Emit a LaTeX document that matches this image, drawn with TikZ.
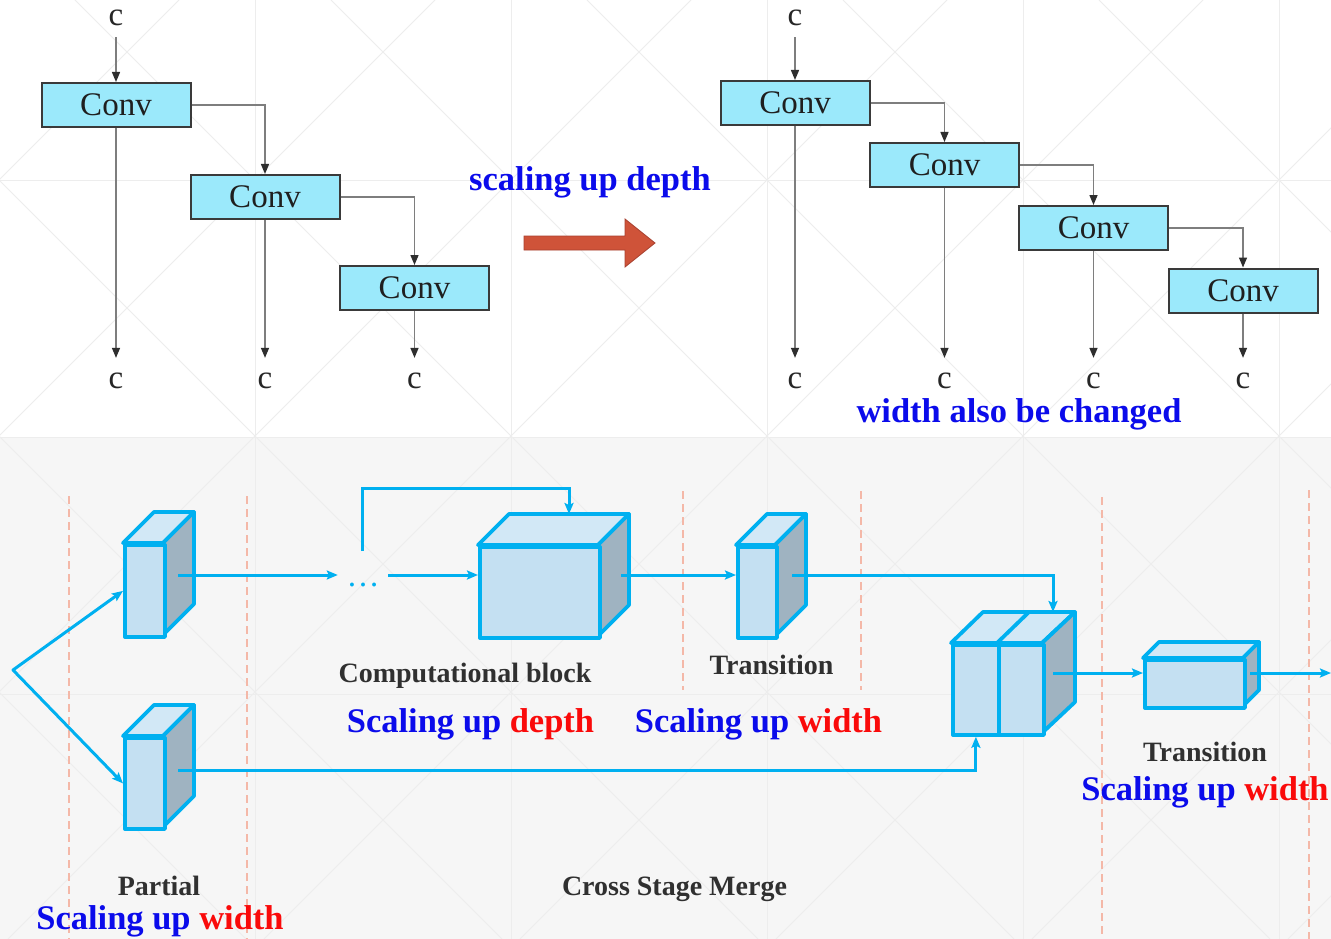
\documentclass[tikz,border=0pt]{standalone}
\usepackage{fontspec}
\setmainfont{Liberation Serif}
\usetikzlibrary{arrows.meta,calc}

\definecolor{convfill}{HTML}{9BE9FB}
\definecolor{convline}{HTML}{3A3A3A}
\definecolor{wiregray}{HTML}{7E7E7E}
\definecolor{tipgray}{HTML}{2E2E2E}
\definecolor{cyanline}{HTML}{00B0F0}
\definecolor{frontfill}{HTML}{C4E0F2}
\definecolor{topfill}{HTML}{D2E8F6}
\definecolor{sidefill}{HTML}{9FB3C1}
\definecolor{guidecol}{HTML}{F4B8A8}
\definecolor{textblue}{HTML}{0B0BEB}
\definecolor{textred}{HTML}{FA0A0A}
\definecolor{textdark}{HTML}{303030}
\definecolor{arrowred}{HTML}{CF5339}
\definecolor{arrowedge}{HTML}{A84130}
\definecolor{panelgray}{HTML}{F6F6F6}

% a box drawn in perspective: name, front x1, y1, x2, y2, depth
\newcommand\cuboid[6]{%
  \filldraw[cubeedge, fill=topfill] (#2,#3) -- ({#2+#6},{#3-#6}) -- ({#4+#6},{#3-#6}) -- (#4,#3) -- cycle;
  \filldraw[cubeedge, fill=sidefill] (#4,#3) -- ({#4+#6},{#3-#6}) -- ({#4+#6},{#5-#6}) -- (#4,#5) -- cycle;
  \node[cubeedge, fill=frontfill, anchor=north west, inner sep=0pt,
        minimum width={(#4-#2)*1pt}, minimum height={(#5-#3)*1pt}] (#1) at (#2,#3) {};
}

\begin{document}
\begin{tikzpicture}[x=1pt,y=-1pt,
  conv/.style={draw=convline, line width=2pt, fill=convfill, minimum width=149pt,
    minimum height=44pt, inner sep=0pt, font=\fontsize{33}{33}\selectfont, text=black!88},
  clabel/.style={font=\fontsize{33}{33}\selectfont, inner sep=0pt, text=black!85},
  wire/.style={draw=wiregray, line width=1.4pt,
    -{Triangle[length=10pt,width=8pt,color=tipgray]}},
  cubeedge/.style={draw=cyanline, line width=3.8pt, line join=round},
  flow/.style={draw=cyanline, line width=3pt,
    -{Stealth[length=11pt,width=9pt,inset=2pt]}},
  guide/.style={draw=guidecol, line width=2pt, dash pattern=on 8pt off 5pt},
  watermark/.style={draw=black!7, line width=0.8pt},
  note/.style={font=\bfseries\fontsize{34.5}{35}\selectfont, inner sep=0pt},
  caption/.style={font=\bfseries\fontsize{28}{28}\selectfont, text=textdark, inner sep=0pt}
]
\useasboundingbox (0,0) rectangle (1331,939);

% ---- background with faint template pattern ----
\fill[white] (0,0) rectangle (1331,437);
\fill[panelgray] (0,437) rectangle (1331,939);
\begin{scope}
  \clip (0,0) rectangle (1331,939);
  \foreach \gx in {255,511,767,1023,1279} \draw[watermark] (\gx,0) -- (\gx,939);
  \foreach \gy in {180,437,694} \draw[watermark] (0,\gy) -- (1331,\gy);
  \foreach \k in {-4,...,6} \draw[watermark] ({75+256*\k},0) -- ({75+256*\k+939},939);
  \foreach \k in {-1,...,9} \draw[watermark] ({435+256*\k},0) -- ({435+256*\k-939},939);
\end{scope}

% ---- three stacked convolutions ----
\node[conv] (L1) at (116,105) {Conv};
\node[conv] (L2) at (265,197) {Conv};
\node[conv] (L3) at (414.5,288) {Conv};
\node[clabel] (lc0) at (116,18) {c};
\node[clabel] (lc1) at (116,381) {c};
\node[clabel] (lc2) at (265,381) {c};
\node[clabel] (lc3) at (414.5,381) {c};
\draw[wire, shorten <=11pt] (lc0) -- (L1);
\draw[wire] (L1.east) -| (L2.north);
\draw[wire] (L2.east) -| (L3.north);
\draw[wire, shorten >=15pt] (L1) -- (lc1);
\draw[wire, shorten >=15pt] (L2) -- (lc2);
\draw[wire, shorten >=15pt] (L3) -- (lc3);

% ---- deeper stack ----
\node[conv] (R1) at (795,103) {Conv};
\node[conv] (R2) at (944.5,165) {Conv};
\node[conv] (R3) at (1093.5,228) {Conv};
\node[conv] (R4) at (1243,290.5) {Conv};
\node[clabel] (rc0) at (795,18) {c};
\node[clabel] (rc1) at (795,381) {c};
\node[clabel] (rc2) at (944.5,381) {c};
\node[clabel] (rc3) at (1093.5,381) {c};
\node[clabel] (rc4) at (1243,381) {c};
\draw[wire, shorten <=11pt] (rc0) -- (R1);
\draw[wire] (R1.east) -| (R2.north);
\draw[wire] (R2.east) -| (R3.north);
\draw[wire] (R3.east) -| (R4.north);
\draw[wire, shorten >=15pt] (R1) -- (rc1);
\draw[wire, shorten >=15pt] (R2) -- (rc2);
\draw[wire, shorten >=15pt] (R3) -- (rc3);
\draw[wire, shorten >=15pt] (R4) -- (rc4);

\node[note, text=textblue, anchor=base] (depthnote) at (590,190) {scaling up depth};
\node[note, text=textblue, anchor=base] (widthnote) at (1019,422) {width also be changed};

% block arrow between the two stacks
\filldraw[fill=arrowred, draw=arrowedge, line width=0.8pt, line join=miter]
  (524,236) -- (625,236) -- (625,219) -- (655,243) -- (625,267) -- (625,250) -- (524,250) -- cycle;

% ---- stage boundaries ----
\draw[guide] (69,496) -- (69,939);
\draw[guide] (247,496) -- (247,939);
\draw[guide] (683,491) -- (683,690);
\draw[guide] (861,491) -- (861,690);
\draw[guide] (1102,497) -- (1102,939);
\draw[guide] (1309,490) -- (1309,939);

% ---- blocks ----
\cuboid{p1}{123}{543}{163}{635}{31}
\cuboid{p2}{123}{736}{163}{827}{31}
\cuboid{cb}{478}{545}{598}{636}{31}
\cuboid{t1}{736}{545}{775}{636}{31}
\cuboid{t2}{1143}{658}{1243}{706}{16}

% merge block made of two slices
\filldraw[cubeedge, fill=topfill] (951,643) -- (983,612) -- (1075,612) -- (1042,643) -- cycle;
\draw[cubeedge] (997,643) -- (1029,612);
\filldraw[cubeedge, fill=sidefill] (1042,643) -- (1075,612) -- (1075,702) -- (1042,733) -- cycle;
\node[cubeedge, fill=frontfill, anchor=north west, inner sep=0pt,
      minimum width=46pt, minimum height=90pt] (m1) at (951,643) {};
\node[cubeedge, fill=frontfill, anchor=north west, inner sep=0pt,
      minimum width=45pt, minimum height=90pt] (m2) at (997,643) {};

% ---- data flow ----
\node[font=\fontsize{33}{33}\selectfont, text=cyanline, inner xsep=8.5pt, inner ysep=0pt,
      anchor=base] (dots) at (363,586) {…};
\coordinate (split) at (13,670);
\coordinate (p1out) at (178,575);
\coordinate (p2out) at (178,770);
\coordinate (loopstart) at (362,551);
\coordinate (cbtop) at (569,514);
\coordinate (cbout) at (621,575);
\coordinate (t1out) at (792,575);
\coordinate (mtop) at (1053,612);
\coordinate (mout) at (1053,673);
\coordinate (t2out) at (1250,673);
\coordinate (finish) at (1331,673);

\draw[flow, {Stealth[length=11pt,width=9pt,inset=2pt]}-{Stealth[length=11pt,width=9pt,inset=2pt]},
      line join=round] (p1.west) -- (split) -- (p2.west);
\draw[flow] (p1out) -- (p1out -| dots.west);
\draw[flow] (p1out -| dots.east) -- (p1out -| cb.west);
\draw[flow] (loopstart) -- ++(0,-63) -| (cbtop);
\draw[flow] (cbout) -- (cbout -| t1.west);
\draw[flow] (t1out) -| (mtop);
\draw[flow] (p2out) -| (m1.south);
\draw[flow] (mout) -- (mout -| t2.west);
\draw[flow] (t2out) -- (finish);

% ---- labels ----
\node[caption, anchor=base] (partlab) at (159,895) {Partial};
\node[note, anchor=base] (partscale) at (160,929) {\textcolor{textblue}{Scaling up} \textcolor{textred}{width}};
\node[caption, anchor=base] (cblab) at (465,682) {Computational block};
\node[note, anchor=base] (cbscale) at (470.5,732) {\textcolor{textblue}{Scaling up} \textcolor{textred}{depth}};
\node[caption, anchor=base] (t1lab) at (771.5,674) {Transition};
\node[note, anchor=base] (t1scale) at (758.5,732) {\textcolor{textblue}{Scaling up} \textcolor{textred}{width}};
\node[caption, anchor=base] (t2lab) at (1205,761) {Transition};
\node[note, anchor=base] (t2scale) at (1205,800) {\textcolor{textblue}{Scaling up} \textcolor{textred}{width}};
\node[caption, anchor=base] (csmlab) at (674.5,895) {Cross Stage Merge};
\end{tikzpicture}
\end{document}
